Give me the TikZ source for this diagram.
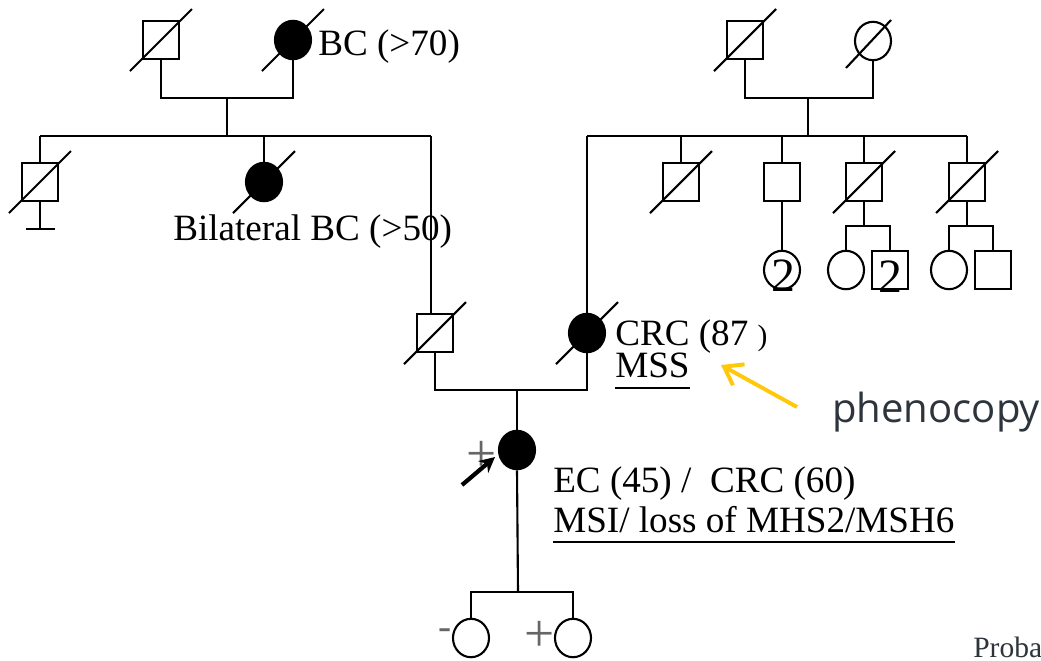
\documentclass[tikz,border=0pt]{standalone}
\usepackage{fontspec}
\setmainfont{Liberation Serif}
\newfontfamily\notefont{Open Sans}
\usetikzlibrary{shapes.geometric, arrows.meta, positioning}
\definecolor{notegray}{RGB}{45,52,60}
\definecolor{hintgold}{RGB}{255,200,10}
\tikzset{
    male/.style={rectangle, draw=black, line width=1.5pt, minimum width=0.88cm, minimum height=0.95cm, inner sep=0pt},
    female/.style={ellipse, draw=black, line width=1.5pt, minimum width=0.9cm, minimum height=0.96cm, inner sep=0pt},
    affected/.style={fill=black},
    line/.style={line width=1.5pt},
    slash/.style={line width=1.5pt},
    uline/.style={line width=1pt},
    disease/.style={anchor=base west, inner sep=0pt, font=\fontsize{26.4}{30}\selectfont},
    count/.style={anchor=base, inner sep=0pt, font=\fontsize{34}{36}\selectfont},
    sign/.style={inner sep=0pt, text=black!60, font=\fontsize{38}{38}\selectfont},
    pbarrow/.style={line width=3pt, -{Stealth[length=11pt, width=11pt]}},
    hint/.style={draw=hintgold, line width=2.8pt, -{Straight Barb[length=12pt, width=17pt]}}
}

\begin{document}
\begin{tikzpicture}[x=0.025cm, y=-0.025cm]
    \useasboundingbox (0,0) rectangle (1041,660);

    % left grandparents
    \node (gf1) [male] at (161,40) {};
    \node (gm1) [female, affected] at (293,40) {};
    \node (bc70) [disease] at (318,55) {BC (>70)};
    \coordinate (m1) at (227,98);
    \draw [line] (gf1.south) |- (m1) -| (gm1.south);

    % their children
    \coordinate (s1l) at (40,136);
    \coordinate (s1m) at (227,136);
    \coordinate (s1r) at (431,136);
    \node (s1) [male] at (40,182) {};
    \node (s2) [female, affected] at (264,182) {};
    \node (bil) [disease] at (173,240) {Bilateral BC (>50)};
    \coordinate (nokid) at (40,229);
    \draw [line] (m1) -- (s1m);
    \draw [line] (s1l) -- (s1r);
    \draw [line] (s1l) -- (s1.north);
    \draw [line] (s2.north |- s1l) -- (s2.north);
    \draw [line] (s1.south) -- (nokid);
    \draw [line] ([shift={(-14,0)}]nokid) -- ([shift={(15,0)}]nokid);

    % right grandparents
    \node (gf2) [male] at (745,40) {};
    \node (gm2) [female] at (873,41) {};
    \coordinate (m3) at (808,98);
    \draw [line] (gf2.south) |- (m3) -| (gm2.south);

    % their children
    \coordinate (s2l) at (587,136);
    \coordinate (s2r) at (967,136);
    \node (u1) [male] at (681,182) {};
    \node (u2) [male] at (782,182) {};
    \node (u3) [male] at (864,182) {};
    \node (u4) [male] at (967,182) {};
    \draw [line] (m3) -- (m3 |- s2l);
    \draw [line] (s2l) -- (s2r);
    \draw [line] (u1.north |- s2l) -- (u1.north);
    \draw [line] (u2.north |- s2l) -- (u2.north);
    \draw [line] (u3.north |- s2l) -- (u3.north);
    \draw [line] (u4.north |- s2l) -- (u4.north);

    % cousins
    \node (cc1) [female] at (782,270) {};
    \node (cc2) [female] at (846,270) {};
    \node (cc3) [male] at (890,270) {};
    \node (cc4) [female] at (949,270) {};
    \node (cc5) [male] at (993,270) {};
    \node (n1) [count] at (783,291) {2};
    \node (n2) [count] at (890,292) {2};
    \coordinate (m4) at (864,226);
    \coordinate (m5) at (967,226);
    \draw [line] (u2.south) -- (cc1.north);
    \draw [line] (u3.south) -- (m4);
    \draw [line] (cc2.north) |- (m4) -| (cc3.north);
    \draw [line] (u4.south) -- (m5);
    \draw [line] (cc4.north) |- (m5) -| (cc5.north);

    % parents
    \node (fa) [male] at (435,333) {};
    \node (mo) [female, affected] at (587,333) {};
    \node (crc87) [disease] at (615,345) {CRC (87 {\fontsize{21}{24}\selectfont)}};
    \node (mss) [disease] at (615,377) {MSS};
    \draw [uline] ([yshift=-7.8pt]mss.base west) -- ([yshift=-7.8pt]mss.base east);
    \coordinate (m2) at (517,390);
    \draw [line] (s1r) -- (s1r |- fa.north);
    \draw [line] (s2l) -- (mo.north);
    \draw [line] (fa.south) |- (m2) -| (mo.south);

    % proband
    \node (pb) [female, affected] at (517,450) {};
    \node (pbplus) [sign] at (482,456) {+};
    \node (ec) [disease] at (553,492) {EC (45) /\ \ CRC (60)};
    \node (msi) [disease] at (553,532) {MSI/ loss of MHS2/MSH6};
    \draw [uline] ([yshift=-7.1pt]msi.base west) -- ([yshift=-7.1pt]msi.base east);
    \coordinate (pa1) at (462,485);
    \coordinate (pa2) at (495,457);
    \draw [pbarrow] (pa1) -- (pa2);
    \draw [line] (m2) -- (pb.north);

    % proband's children
    \coordinate (s3) at (518,592);
    \node (c1) [female] at (471,638) {};
    \node (c2) [female] at (573,638) {};
    \node (minus) [sign, font=\fontsize{28}{28}\selectfont] at (445,634) {-};
    \node (plus) [sign] at (540,636) {+};
    \draw [line] (pb.south) -- (s3);
    \draw [line] (c1.north) |- (s3) -| (c2.north);

    % deceased
    \draw [slash] ([shift={(-31,31)}]gf1.center) -- ([shift={(31,-31)}]gf1.center);
    \draw [slash] ([shift={(-31,31)}]gm1.center) -- ([shift={(31,-31)}]gm1.center);
    \draw [slash] ([shift={(-31,31)}]s1.center) -- ([shift={(31,-31)}]s1.center);
    \draw [slash] ([shift={(-31,31)}]s2.center) -- ([shift={(31,-31)}]s2.center);
    \draw [slash] ([shift={(-31,31)}]gf2.center) -- ([shift={(31,-31)}]gf2.center);
    \draw [slash] ([shift={(-27,27)}]gm2.center) -- ([shift={(18,-21)}]gm2.center);
    \draw [slash] ([shift={(-31,31)}]u1.center) -- ([shift={(31,-31)}]u1.center);
    \draw [slash] ([shift={(-31,31)}]u3.center) -- ([shift={(31,-31)}]u3.center);
    \draw [slash] ([shift={(-31,31)}]u4.center) -- ([shift={(31,-31)}]u4.center);
    \draw [slash] ([shift={(-31,31)}]fa.center) -- ([shift={(31,-31)}]fa.center);
    \draw [slash] ([shift={(-31,31)}]mo.center) -- ([shift={(31,-31)}]mo.center);

    % note
    \node (pheno) [anchor=base west, inner sep=0pt, text=notegray, font=\notefont\fontsize{28.5}{32}\selectfont] at (832,422) {phenocopy};
    \coordinate (ptail) at (797,407);
    \coordinate (ptip) at (721,365);
    \draw [hint] (ptail) -- (ptip);
    \node (proba) [anchor=base west, inner sep=0pt, text=notegray, font=\fontsize{21}{24}\selectfont] at (973,657) {Proba};
\end{tikzpicture}
\end{document}
